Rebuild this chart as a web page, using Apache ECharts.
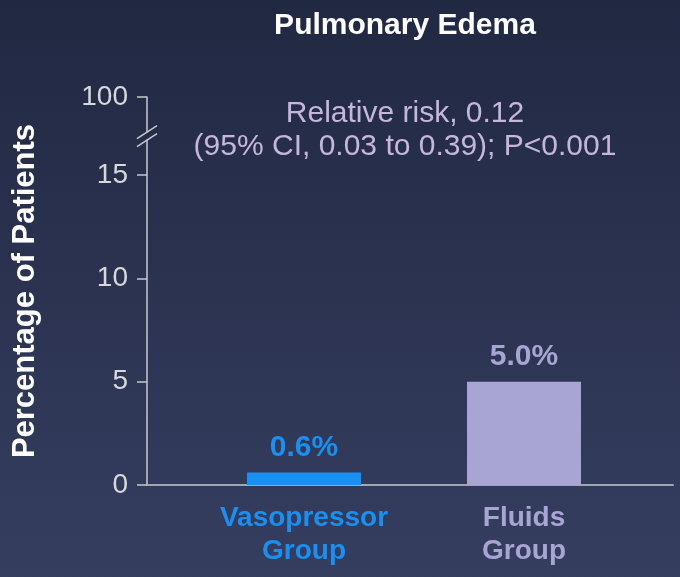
<!DOCTYPE html>
<html>
<head>
<meta charset="utf-8">
<script src="https://cdn.jsdelivr.net/npm/echarts@6/dist/echarts.min.js"></script>
<style>
html, body { margin: 0; padding: 0; }
#chart { width: 680px; height: 577px; }
</style>
</head>
<body>
<div id="chart"></div>
<script>
// chart values
const groups = ['Vasopressor\nGroup', 'Fluids\nGroup'];
const percentages = [0.6, 5.0];
const groupColors = ['#1a8ff2', '#a8a4d3'];
const yTicks = [0, 5, 10, 15, 100];
const axisBreak = { start: 16.7, end: 98.3 };
const titleText = 'Pulmonary Edema';
const noteText = 'Relative risk, 0.12\n(95% CI, 0.03 to 0.39); P<0.001';

const axisColor = '#c8c8cc';
const fontFamily = '"Liberation Sans", Arial, sans-serif';

let chart = echarts.init(document.getElementById('chart'));

let barData = percentages.map((v, i) => ({
    value: v,
    itemStyle: { color: groupColors[i] },
    label: { color: groupColors[i] }
}));

let breakCfg = [{ start: axisBreak.start, end: axisBreak.end, gap: '2.06%' }];

let option = {
    backgroundColor: new echarts.graphic.LinearGradient(0, 0, 0, 1, [
        { offset: 0, color: '#212842' },
        { offset: 1, color: '#363e60' }
    ]),
    textStyle: { fontFamily: fontFamily },
    grid: [
        // axes frame
        { left: 147, right: 7, top: 97, bottom: 92 },
        // bars
        { left: 194, right: 46, top: 97, bottom: 92 }
    ],
    xAxis: [
        {
            type: 'value',
            gridIndex: 0,
            min: 0,
            max: 1,
            axisLine: { show: true, lineStyle: { color: '#a0a7b0', width: 2 } },
            axisTick: { show: false },
            axisLabel: { show: false },
            splitLine: { show: false }
        },
        {
            type: 'category',
            gridIndex: 1,
            data: groups,
            axisLine: { show: false },
            axisTick: { show: false },
            axisLabel: {
                fontSize: 28,
                fontWeight: 'bold',
                lineHeight: 33,
                margin: 17,
                color: (value, index) => groupColors[index]
            }
        }
    ],
    yAxis: [
        {
            type: 'value',
            gridIndex: 0,
            min: 0,
            max: 100,
            breaks: breakCfg,
            breakArea: { show: false },
            name: 'Percentage of Patients',
            nameLocation: 'middle',
            nameGap: 106,
            nameTextStyle: { color: '#ffffff', fontSize: 31, fontWeight: 'bold', padding: [0, 0, 0, 0] },
            axisLine: { show: true, lineStyle: { color: axisColor, width: 1.5 } },
            axisTick: { show: true, length: 10, customValues: yTicks, lineStyle: { color: axisColor, width: 1.5 } },
            axisLabel: { customValues: yTicks, fontSize: 28, color: '#d8d8dc', margin: 19 },
            splitLine: { show: false }
        },
        {
            type: 'value',
            gridIndex: 1,
            min: 0,
            max: 100,
            breaks: breakCfg,
            breakArea: { show: false },
            show: false,
            splitLine: { show: false }
        }
    ],
    series: [
        {
            type: 'bar',
            xAxisIndex: 1,
            yAxisIndex: 1,
            data: barData,
            barWidth: 114,
            label: {
                show: true,
                position: 'top',
                distance: 10,
                fontSize: 30,
                fontWeight: 'bold',
                formatter: p => p.value.toFixed(1) + '%'
            }
        }
    ],
    graphic: [
        {
            type: 'text',
            x: 405,
            y: 26,
            style: {
                text: titleText,
                fill: '#ffffff',
                font: 'bold 30px ' + fontFamily,
                textAlign: 'center',
                textVerticalAlign: 'middle'
            }
        },
        {
            type: 'text',
            x: 405,
            y: 130,
            style: {
                text: noteText,
                fill: '#c5b6dc',
                font: '30px ' + fontFamily,
                lineHeight: 33,
                textAlign: 'center',
                textVerticalAlign: 'middle'
            }
        }
    ]
};

chart.setOption(option);

// draw the "//" break mark on the y axis
let yTop = chart.convertToPixel({ yAxisIndex: 0 }, axisBreak.end);
let yBottom = chart.convertToPixel({ yAxisIndex: 0 }, axisBreak.start);
let axisX = chart.convertToPixel({ xAxisIndex: 0 }, 0);
let slashes = [yTop, yBottom].map(y => ({
    type: 'line',
    shape: { x1: axisX - 10, y1: y + 6.5, x2: axisX + 10, y2: y - 6.5 },
    style: { stroke: axisColor, lineWidth: 1.5 },
    z: 10
}));
chart.setOption({ graphic: option.graphic.concat(slashes) });
</script>
</body>
</html>
